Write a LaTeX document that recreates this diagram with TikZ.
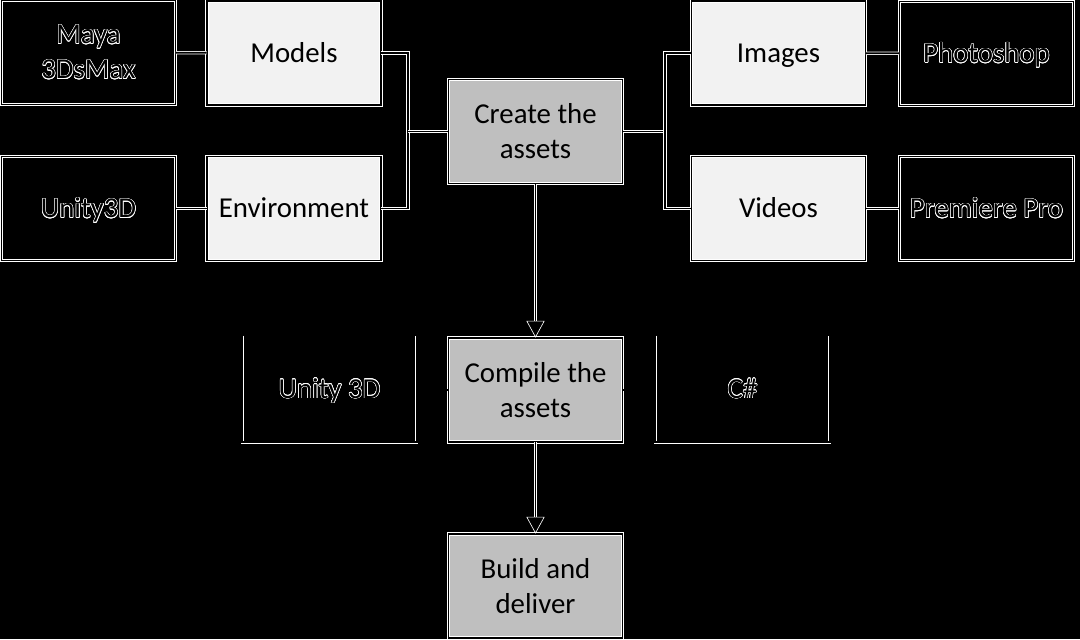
\documentclass[tikz,border=0pt]{standalone}
\usepackage{fontspec}
\setmainfont{Carlito}
\usepackage[copies]{contour}
\contourlength{0.4pt}
\usetikzlibrary{arrows.meta}
\definecolor{lightbox}{HTML}{F2F2F2}
\definecolor{darkbox}{HTML}{BFBFBF}
\newcommand\outl[1]{\contour{white}{#1}}
\begin{document}
\begin{tikzpicture}[x=0.025cm,y=-0.025cm,
	wire/.style={draw=white,double=black,double distance=1.3pt,line width=0.45pt},
	txt/.style={minimum width=4.35cm,minimum height=2.6cm,align=center,inner sep=0pt,font=\fontsize{20.5}{25}\selectfont},
	one/.style={text height=13.2pt,text depth=0pt},
	box/.style={txt,wire},
	light/.style={box,fill=lightbox},
	dark/.style={box,fill=darkbox},
	tool/.style={box,fill=black},
	tip/.style={-{Triangle[open,width=13pt,length=12pt]}}]
		\fill [black] (0,0) rectangle (1080,639);
		\useasboundingbox (0,0) rectangle (1080,639);
		\node [tool] (maya) at (88.5,52.5) {\outl{Maya}\\\outl{3DsMax}};
		\node [light,one] (models) at (294,53) {Models};
		\node [tool,one] (unity) at (88.5,208.5) {\outl{Unity3D}};
		\node [light,one] (env) at (294,208.5) {Environment};
		\node [dark] (create) at (535.5,131.5) {Create the\\assets};
		\node [light,one] (images) at (778.5,53) {Images};
		\node [tool,one] (photoshop) at (986.5,53.5) {\outl{Photoshop}};
		\node [light,one] (videos) at (778.5,208.5) {Videos};
		\node [tool,one] (premiere) at (986.5,208.5) {\outl{Premiere Pro}};
		\node [dark] (compile) at (535.5,390) {Compile the\\assets};
		\node [txt,one,minimum height=2.65cm] (unity3d) at (329.5,389) {\outl{Unity 3D}};
		\node [txt,one,minimum height=2.65cm] (csharp) at (742.5,389) {\outl{C\#}};
		\node [dark] (build) at (535.5,586) {Build and\\deliver};
		\foreach \n in {unity3d,csharp}
			\draw [wire] (\n.north west) -- (\n.south west) -- (\n.south east) -- (\n.north east);
		\coordinate (jl) at (408,131.5);
		\coordinate (jr) at (665,131.5);
		\draw [wire] (maya) -- (models);
		\draw [wire] (unity) -- (env);
		\draw [wire] (images) -- (photoshop);
		\draw [wire] (videos) -- (premiere);
		\draw [wire] (models.east) -| (jl);
		\draw [wire] (env.east) -| (jl);
		\draw [wire] (jl) -- (create.west);
		\draw [wire] (create.east) -- (jr);
		\draw [wire] (jr) |- (images.west);
		\draw [wire] (jr) |- (videos.west);
		\draw [black,line width=1.3pt] (unity3d.east) -- (compile.west);
		\draw [black,line width=1.3pt] (csharp.west) -- (compile.east);
		\draw [wire,tip] (create) -- (compile);
		\draw [wire,tip] (compile) -- (build);
	\end{tikzpicture}
\end{document}
